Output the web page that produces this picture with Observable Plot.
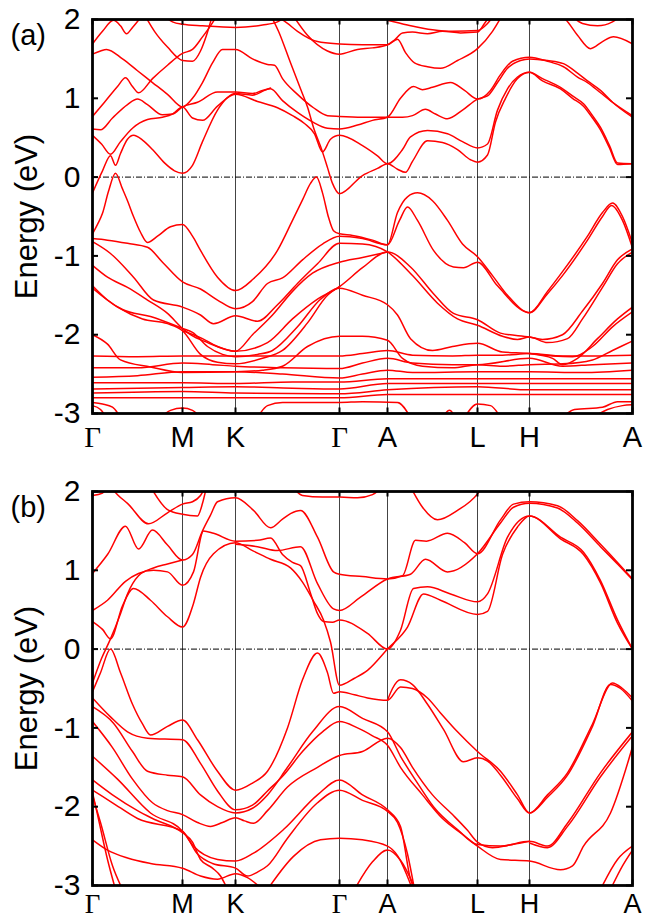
<!DOCTYPE html>
<html><head><meta charset="utf-8">
<script src="https://cdn.jsdelivr.net/npm/d3@7"></script>
<script src="https://cdn.jsdelivr.net/npm/@observablehq/plot@0.6"></script>
<style>body{margin:0;background:#fff}#c svg{display:block}</style>
</head><body><div id="c"></div>
<script>
// k-path positions of high-symmetry points and their labels
const kTicks = [0, 90, 143, 247, 295, 385, 437, 540];
const kLabels = ["Γ","M","K","Γ","A","L","H","A"];
const eTicks = [-3, -2, -1, 0, 1, 2];

// Panel (a): conduction-like bands [k, E(eV)]
const condA = [
 [[0,1.69],[10,1.85],[21,1.99],[28,1.92],[34,1.82],[40,1.9],[46,1.99],[52,2.08]],
 [[0,1.56],[8,1.6],[14,1.62],[30,1.5],[45,1.35],[60,1.2],[75,1.05],[90,0.89],[100,1.0],[110,1.2],[120,1.45],[130,1.62],[143,1.62],[160,1.5],[175,1.43],[182,1.42],[190,1.25],[205,1.05],[221,0.88],[235,0.78],[247,0.77],[270,0.76],[295,0.76],[310,0.76],[320,0.78],[333,0.86],[343,0.8],[355,0.74],[370,0.85],[385,0.99],[395,1.03],[405,1.2],[415,1.38],[428,1.48],[437,1.5],[455,1.48],[471,1.44],[485,1.32],[495,1.22],[508,1.1],[520,0.95],[540,0.76]],
 [[0,0.77],[12,0.95],[25,1.15],[33,1.26],[40,1.15],[46,1.07],[60,1.25],[75,1.42],[90,1.57],[100,1.62],[110,1.78],[118,1.92],[125,2.06]],
 [[0,0.61],[8,0.6],[20,0.75],[35,0.92],[45,0.99],[55,0.92],[70,0.79],[80,0.8],[90,0.89],[105,0.95],[125,1.08],[143,1.08],[160,1.06],[170,1.1],[178,1.12],[190,0.97],[205,0.82],[220,0.7],[235,0.62],[247,0.61],[265,0.66],[280,0.72],[295,0.76],[308,1.0],[321,1.15],[330,1.11],[340,1.14],[358,1.2],[372,1.1],[385,0.99],[398,1.1],[408,1.3],[420,1.47],[437,1.52],[455,1.47],[471,1.4],[485,1.27],[495,1.2],[508,1.07],[520,0.95],[540,0.78]],
 [[0,0.53],[9,0.42],[18,0.29],[28,0.45],[40,0.62],[55,0.73],[70,0.76],[80,0.8],[90,0.89],[100,0.75],[110,0.72],[125,0.9],[143,1.05],[165,0.96],[185,0.88],[200,0.78],[212,0.68],[222,0.55],[230,0.32],[238,0.48],[247,0.53],[270,0.4],[285,0.27],[295,0.17],[310,0.35],[318,0.51],[335,0.59],[355,0.55],[370,0.45],[385,0.37],[395,0.42],[405,0.85],[415,1.12],[425,1.27],[437,1.33],[450,1.25],[468,1.14],[480,1.03],[491,0.93],[500,0.78],[508,0.63],[517,0.4],[525,0.18],[540,0.17]],
 [[0,-0.2],[10,0.08],[18,0.27],[23,0.15],[28,0.3],[35,0.48],[41,0.53],[50,0.47],[60,0.35],[72,0.18],[82,0.08],[90,0.05],[100,0.15],[110,0.45],[125,0.85],[143,1.06],[160,1.04],[172,1.1],[178,1.13]],
 [[178,2.06],[186,1.85],[198,1.45],[208,1.12],[215,0.89],[221,0.63],[230,0.32],[235,0.12],[240,-0.08],[247,-0.21],[270,0.02],[285,0.11],[295,0.17],[305,0.1],[313,0.06],[320,0.2],[335,0.46],[350,0.44],[365,0.35],[378,0.22],[385,0.19],[395,0.28],[403,0.7],[413,1.0],[425,1.25],[437,1.33],[450,1.22],[468,1.12],[480,1.0],[491,0.9],[500,0.75],[508,0.6],[517,0.37],[525,0.16],[540,0.17]],
 [[70,2.06],[80,1.97],[90,1.94],[110,1.92],[143,1.9],[170,1.93],[185,1.97],[195,2.06]],
 [[52,2.06],[62,1.85],[75,1.65],[90,1.48],[100,1.47],[108,1.6],[114,1.8],[120,2.06]],
 [[183,2.06],[195,1.95],[205,1.85],[225,1.72],[247,1.69],[270,1.68],[295,1.68],[305,1.75],[313,1.58],[322,1.45],[335,1.4],[348,1.38],[365,1.48],[385,1.63],[400,1.85],[410,2.06]],
 [[200,2.06],[215,1.8],[235,1.6],[247,1.56],[265,1.62],[280,1.64],[295,1.68],[302,1.74],[310,1.83],[320,1.84],[335,1.82],[350,1.85],[368,1.83],[385,1.84],[392,1.95],[398,2.06]],
 [[295,1.99],[315,1.93],[340,1.87],[360,1.85],[385,1.86],[395,1.95],[402,2.06]],
 [[466,2.06],[473,2.0],[485,1.8],[498,1.63],[510,1.72],[521,1.78],[540,1.69]],
 [[478,2.06],[490,1.95],[505,1.92],[520,1.97],[530,2.06]]
];
// Panel (a): valence bands
const valA = [
 [[0,-0.72],[5,-0.6],[10,-0.46],[16,-0.18],[23,0.05],[30,-0.15],[35,-0.3],[41,-0.5],[48,-0.7],[55,-0.83],[65,-0.75],[78,-0.63],[90,-0.6],[100,-0.75],[108,-0.93],[125,-1.27],[143,-1.44],[161,-1.29],[185,-0.93],[200,-0.55],[210,-0.29],[218,-0.08],[224,0.0],[230,-0.2],[236,-0.51],[241,-0.68],[247,-0.72],[260,-0.74],[280,-0.8],[295,-0.86],[305,-0.45],[315,-0.25],[325,-0.2],[340,-0.3],[355,-0.55],[370,-0.85],[385,-1.01],[400,-1.25],[415,-1.5],[437,-1.72],[455,-1.45],[470,-1.2],[495,-0.75],[510,-0.45],[520,-0.33],[530,-0.5],[540,-0.84]],
 [[0,-0.78],[15,-0.8],[35,-0.84],[55,-0.89],[70,-1.08],[90,-1.33],[108,-1.42],[125,-1.56],[143,-1.67],[160,-1.58],[175,-1.35],[190,-1.28],[210,-1.05],[230,-0.85],[247,-0.75],[270,-0.78],[295,-0.86],[307,-0.55],[315,-0.38],[325,-0.55],[341,-0.93],[361,-1.14],[371,-1.15],[385,-1.08],[405,-1.38],[437,-1.72],[455,-1.48],[470,-1.25],[495,-0.8],[510,-0.5],[519,-0.36],[530,-0.55],[540,-0.9]],
 [[0,-0.82],[18,-0.97],[41,-1.27],[61,-1.56],[90,-1.65],[108,-1.75],[121,-1.86],[143,-1.76],[165,-1.83],[185,-1.62],[205,-1.35],[225,-1.1],[247,-0.84],[270,-0.85],[295,-0.95],[320,-1.25],[345,-1.6],[365,-1.8],[385,-1.88],[410,-2.02],[425,-2.06],[437,-2.03],[455,-2.1],[475,-2.05],[490,-1.8],[510,-1.4],[525,-1.1],[540,-0.95]],
 [[0,-1.12],[15,-1.27],[35,-1.4],[55,-1.56],[75,-1.73],[90,-1.92],[98,-2.0],[115,-2.1],[143,-2.21],[175,-2.1],[200,-1.8],[225,-1.55],[247,-1.39],[270,-1.15],[295,-0.95],[318,-1.14],[341,-1.48],[361,-1.73],[385,-1.81],[408,-1.98],[437,-2.03],[450,-2.06],[470,-2.0],[490,-1.7],[510,-1.35],[525,-1.05],[540,-0.91]],
 [[0,-1.38],[15,-1.56],[30,-1.68],[58,-1.77],[90,-1.92],[100,-1.97],[115,-2.15],[130,-2.25],[143,-2.28],[165,-2.25],[180,-2.2],[205,-1.9],[228,-1.55],[247,-1.41],[270,-1.5],[295,-1.62],[305,-1.75],[318,-2.05],[340,-2.2],[360,-2.15],[385,-2.11],[410,-2.22],[437,-2.24],[460,-2.3],[470,-2.38],[485,-2.3],[505,-2.05],[525,-1.8],[540,-1.65]],
 [[0,-1.41],[25,-1.65],[50,-1.8],[75,-1.86],[90,-1.95],[108,-2.25],[125,-2.35],[143,-2.37],[170,-2.3],[190,-2.2],[215,-1.85],[235,-1.5],[247,-1.39]],
 [[90,-1.95],[110,-2.05],[125,-2.15],[143,-2.21],[160,-2.0],[180,-1.75],[200,-1.45],[220,-1.22],[247,-1.08],[270,-1.02],[295,-0.95]],
 [[0,-2.0],[15,-2.12],[28,-2.32],[58,-2.41],[90,-2.48],[143,-2.47],[170,-2.45],[190,-2.4],[215,-2.15],[247,-2.02],[270,-2.02],[295,-2.07],[310,-2.3],[330,-2.4],[360,-2.42],[385,-2.38],[410,-2.4],[437,-2.38],[470,-2.37],[500,-2.32],[520,-2.2],[540,-2.08]],
 [[437,-2.24],[460,-2.27],[480,-2.28],[500,-2.15],[520,-1.9],[540,-1.71]],
 [[0,-2.27],[45,-2.28],[90,-2.27],[143,-2.27],[200,-2.27],[247,-2.27],[270,-2.24],[295,-2.2],[320,-2.26],[360,-2.27],[385,-2.26],[410,-2.26],[437,-2.24],[470,-2.27],[500,-2.27],[540,-2.26]],
 [[0,-2.42],[45,-2.42],[90,-2.36],[120,-2.38],[143,-2.4],[190,-2.42],[247,-2.43],[270,-2.36],[295,-2.3],[320,-2.36],[360,-2.38],[385,-2.38],[437,-2.3],[470,-2.4],[500,-2.38],[540,-2.36]],
 [[0,-2.54],[45,-2.52],[90,-2.47],[143,-2.47],[190,-2.5],[247,-2.55],[270,-2.5],[295,-2.45],[320,-2.48],[385,-2.47],[437,-2.47],[490,-2.48],[540,-2.45]],
 [[0,-2.61],[90,-2.61],[143,-2.62],[200,-2.6],[247,-2.6],[295,-2.56],[385,-2.56],[437,-2.56],[540,-2.56]],
 [[0,-2.69],[90,-2.67],[143,-2.66],[200,-2.68],[247,-2.69],[295,-2.62],[385,-2.62],[437,-2.62],[540,-2.62]],
 [[0,-2.74],[90,-2.72],[143,-2.74],[247,-2.75],[295,-2.7],[385,-2.66],[437,-2.7],[540,-2.7]],
 [[0,-2.8],[90,-2.8],[143,-2.8],[247,-2.8],[295,-2.76],[385,-2.76],[437,-2.76],[540,-2.76]],
 [[0,-2.86],[10,-2.88],[20,-2.92],[28,-3.05]],
 [[0,-2.9],[8,-2.95],[14,-3.05]],
 [[68,-3.05],[78,-2.96],[90,-2.93],[100,-2.96],[108,-3.05]],
 [[165,-3.05],[175,-2.9],[190,-2.86],[247,-2.86],[270,-2.85],[305,-2.86],[318,-3.05]],
 [[350,-3.05],[357,-2.96],[363,-3.05]],
 [[372,-3.05],[385,-2.88],[398,-2.9],[408,-3.05]],
 [[470,-3.05],[482,-2.95],[510,-2.92],[525,-2.85],[540,-2.85]],
 [[500,-3.05],[515,-2.95],[530,-2.9],[540,-2.89]]
];
// Panel (b): conduction-like bands
const condB = [
 [[0,1.95],[10,1.98],[15,2.06]],
 [[18,2.06],[25,1.96],[35,1.85],[56,1.59],[75,1.73],[90,1.84],[100,1.87],[108,1.95],[113,2.06]],
 [[58,2.06],[75,1.77],[90,1.71],[105,1.69],[110,1.85],[114,2.06]],
 [[0,0.96],[15,1.2],[33,1.56],[46,1.27],[60,1.51],[75,1.32],[90,1.13],[100,1.2],[110,1.5],[118,1.7],[125,1.87],[143,1.92],[161,1.76],[178,1.54],[190,1.65],[198,1.72],[208,1.76],[225,1.42],[241,0.98],[247,0.95],[270,0.92],[295,0.89],[310,0.93],[323,1.38],[334,1.37],[355,1.47],[372,1.35],[385,1.21],[408,1.64],[421,1.84],[437,1.87],[465,1.82],[485,1.63],[508,1.33],[525,1.1],[540,0.89]],
 [[0,0.49],[15,0.62],[33,0.86],[46,0.96],[61,1.0],[75,0.98],[90,0.81],[101,0.98],[111,1.5],[121,1.47],[143,1.37],[165,1.38],[178,1.41],[190,1.2],[200,1.1],[208,1.06],[218,0.71],[225,0.45],[231,0.35],[240,0.34],[247,0.37],[275,0.2],[295,0.0],[308,0.24],[321,0.77],[335,0.79],[358,0.7],[385,0.6],[395,0.7],[415,1.42],[437,1.69],[468,1.42],[491,1.23],[508,0.87],[525,0.37],[540,0.0]],
 [[0,-0.43],[9,-0.12],[18,0.13],[28,0.45],[35,0.7],[46,0.93],[61,1.03],[75,1.08],[90,1.13]],
 [[0,0.35],[10,0.25],[18,0.13],[30,0.55],[41,0.77],[58,0.62],[75,0.41],[90,0.28],[101,0.58],[108,0.91],[121,1.21],[143,1.35],[160,1.25],[178,1.14],[198,1.03],[210,0.85],[221,0.61],[231,0.37],[238,0.09],[247,-0.46],[262,-0.37],[275,-0.27],[295,0.0],[315,0.28],[331,0.7],[348,0.62],[385,0.44],[395,0.48],[410,1.2],[425,1.55],[437,1.69],[468,1.4],[491,1.2],[508,0.84],[525,0.33],[540,0.0]],
 [[143,1.33],[165,1.3],[185,1.25],[208,1.3],[225,0.83],[241,0.51],[247,0.49],[268,0.66],[295,0.89],[318,0.95],[333,1.14],[355,0.98],[385,1.21],[408,1.6],[421,1.8],[437,1.85],[465,1.79],[485,1.6],[508,1.3],[525,1.08],[540,0.88]],
 [[200,2.06],[210,1.95],[230,1.93],[247,1.93],[265,1.92],[280,1.96],[290,2.06]],
 [[318,2.06],[330,1.8],[345,1.64],[365,1.76],[385,1.97],[390,2.06]]
];
// Panel (b): valence bands
const valB = [
 [[0,-0.54],[8,-0.3],[18,0.0],[28,-0.3],[40,-0.7],[50,-0.95],[58,-1.09],[75,-0.98],[90,-0.9],[105,-1.15],[125,-1.55],[143,-1.79],[160,-1.7],[175,-1.55],[195,-1.0],[210,-0.39],[225,-0.05],[235,-0.3],[241,-0.56],[247,-0.54],[262,-0.58],[275,-0.62],[295,-0.65],[308,-0.48],[320,-0.5],[335,-0.62],[348,-0.81],[365,-1.05],[385,-1.3],[408,-1.55],[425,-1.85],[437,-2.08],[455,-1.85],[475,-1.57],[500,-0.95],[520,-0.43],[530,-0.5],[540,-0.62]],
 [[295,-0.65],[300,-0.5],[308,-0.39],[320,-0.45],[335,-0.7],[351,-1.02],[371,-1.43],[385,-1.38],[395,-1.42],[408,-1.6],[425,-1.9],[437,-2.08],[455,-1.88],[475,-1.6],[500,-0.98],[518,-0.45],[528,-0.5],[540,-0.66]],
 [[0,-0.62],[18,-0.86],[35,-1.05],[55,-1.13],[90,-1.15],[108,-1.45],[125,-1.8],[143,-2.04],[160,-1.98],[175,-1.8],[191,-1.6],[210,-1.3],[230,-1.05],[247,-0.92],[265,-1.0],[280,-1.1],[295,-1.22],[308,-1.5],[330,-1.85],[350,-2.15],[370,-2.35],[385,-2.5],[408,-2.67],[437,-2.69],[468,-2.8],[480,-2.75],[491,-2.5],[518,-2.08],[540,-1.24]],
 [[0,-0.73],[21,-0.94],[40,-1.3],[55,-1.55],[75,-1.6],[90,-1.62],[108,-1.85],[125,-2.0],[143,-2.08],[160,-2.02],[175,-1.85],[195,-1.5],[220,-1.05],[247,-0.73],[270,-0.88],[295,-1.05],[308,-1.36],[325,-1.7],[341,-2.0],[365,-2.29],[385,-2.48],[408,-2.5],[437,-2.44],[455,-2.5],[475,-2.21],[508,-1.57],[540,-1.05]],
 [[437,-2.46],[455,-2.52],[475,-2.25],[508,-1.62],[540,-1.1]],
 [[0,-0.92],[20,-1.25],[40,-1.65],[60,-1.95],[75,-2.05],[90,-2.1],[105,-2.2],[118,-2.25],[130,-2.2],[143,-2.14],[152,-2.18],[161,-2.21],[175,-2.05],[195,-1.75],[225,-1.5],[247,-1.35],[270,-1.3],[295,-1.13],[308,-1.25],[320,-1.5],[340,-1.85],[360,-2.1],[375,-2.3],[385,-2.45],[400,-2.52],[420,-2.48],[437,-2.44]],
 [[0,-1.36],[25,-1.65],[58,-2.08],[90,-2.31],[101,-2.5],[125,-2.67],[143,-2.69],[161,-2.59],[191,-2.29],[225,-1.85],[247,-1.66],[270,-1.85],[295,-2.04],[308,-2.25],[318,-2.92],[322,-3.05]],
 [[0,-1.66],[20,-1.85],[45,-2.05],[60,-2.15],[90,-2.33],[100,-2.45],[108,-2.67],[120,-2.78],[128,-2.88],[135,-3.05]],
 [[0,-1.79],[20,-1.95],[45,-2.15],[90,-2.31],[105,-2.6],[120,-2.72],[143,-2.78],[155,-2.88],[165,-2.83],[175,-2.75],[195,-2.4],[225,-1.95],[247,-1.79],[270,-1.92],[295,-2.06],[305,-2.2],[315,-2.6],[322,-3.05]],
 [[0,-1.82],[5,-2.1],[15,-2.67],[23,-3.05]],
 [[0,-1.86],[8,-2.2],[20,-2.75],[30,-3.05]],
 [[0,-2.42],[15,-2.55],[35,-2.65],[58,-2.72],[90,-2.78],[108,-2.88],[125,-2.92],[143,-2.85],[155,-2.9],[170,-3.05]],
 [[175,-3.05],[201,-2.63],[228,-2.42],[247,-2.4],[270,-2.42],[295,-2.5],[305,-2.62],[320,-3.05]],
 [[262,-3.05],[280,-2.7],[295,-2.55],[308,-2.68],[323,-3.05]],
 [[508,-3.05],[525,-2.67],[540,-2.5]],
 [[518,-3.05],[530,-2.75],[540,-2.55]]
];

const tickData = kTicks.map((k, i) => ({k, label: kLabels[i]}));

function panel(bands, tag, height, marginBottom, labelDy, labelSize) {
  const data = bands.flatMap((b, i) => b.map(([k, e]) => ({band: i, k, e})));
  return Plot.plot({
    width: 645, height, marginLeft: 92, marginRight: 13, marginTop: 19, marginBottom,
    x: {domain: [0, 540], axis: null},
    y: {domain: [-3, 2], axis: null},
    style: {fontFamily: "'Liberation Sans', Arial, sans-serif", background: "white", overflow: "visible"},
    marks: [
      Plot.ruleX(kTicks.slice(1, -1), {stroke: "#444", strokeWidth: 1}),
      Plot.ruleY([0], {stroke: "black", strokeWidth: 1, strokeDasharray: "6,2,1,2"}),
      Plot.line(data, {x: "k", y: "e", z: "band", stroke: "#ff0000", strokeWidth: 1.5, curve: "monotone-x", clip: true}),
      Plot.ruleY(eTicks, {x1: 0, x2: 6, stroke: "black", strokeWidth: 2}),
      Plot.ruleY(eTicks, {x1: 534, x2: 540, stroke: "black", strokeWidth: 2}),
      Plot.ruleX(kTicks, {y1: 2, y2: 1.93, stroke: "black", strokeWidth: 2}),
      Plot.ruleX(kTicks, {y1: -3, y2: -2.93, stroke: "black", strokeWidth: 2}),
      Plot.frame({stroke: "black", strokeWidth: 2.8}),
      Plot.text(eTicks, {y: d => d, text: d => String(d), frameAnchor: "left", dx: -12, textAnchor: "end", lineAnchor: "middle", fontSize: 30, fill: "black"}),
      Plot.text(tickData.filter(d => d.label !== "Γ"), {x: "k", text: "label", frameAnchor: "bottom", dy: labelDy, lineAnchor: "middle", textAnchor: "middle", fontSize: labelSize, fill: "black"}),
      Plot.text(tickData.filter(d => d.label === "Γ"), {x: "k", text: "label", frameAnchor: "bottom", dy: labelDy, lineAnchor: "middle", textAnchor: "middle", fontSize: labelSize, fontFamily: "'Liberation Serif', 'Times New Roman', serif", fill: "black"}),
      Plot.text(["Energy (eV)"], {text: d => d, frameAnchor: "left", dx: -65, rotate: -90, textAnchor: "middle", lineAnchor: "middle", fontSize: 31, fill: "black"}),
      Plot.text([tag], {text: d => d, frameAnchor: "top-left", dx: -82, dy: 16, textAnchor: "start", lineAnchor: "middle", fontSize: 29, fill: "black"})
    ]
  });
}

const c = document.getElementById("c");
c.appendChild(panel([...condA, ...valA], "(a)", 472, 59, 24, 29));
c.appendChild(panel([...condB, ...valB], "(b)", 448, 35, 19, 27));
</script>
</body></html>
